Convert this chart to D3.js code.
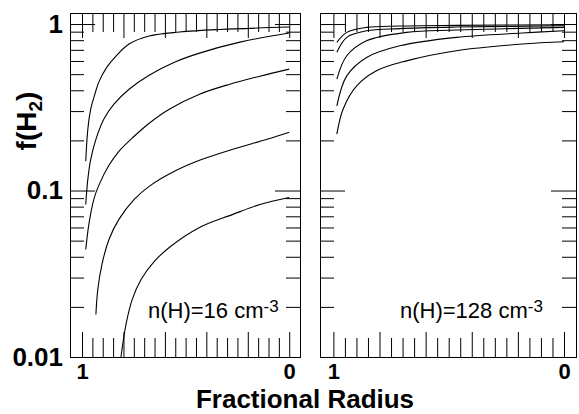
<!DOCTYPE html>
<html>
<head>
<meta charset="utf-8">
<script src="https://cdn.jsdelivr.net/npm/d3@7"></script>
<style>
  body { margin: 0; background: #fff; }
  svg { display: block; color: #000; font-family: 'Liberation Sans', Arial, Helvetica, sans-serif; }
</style>
</head>
<body>
<svg id="chart" width="579" height="414"></svg>
<script>
'use strict'

// fractional radius: 1 = cloud edge, 0 = centre
const radiusMajor = [1, 0.8, 0.6, 0.4, 0.2, 0]
const radiusMinor = [0.95, 0.9, 0.85, 0.75, 0.7, 0.65, 0.55, 0.5, 0.45, 0.35, 0.3, 0.25, 0.15, 0.1, 0.05]
const radiusLabels = [1, 0]

const fractionMajor = [0.01, 0.1, 1]
const fractionMinor = [0.02, 0.03, 0.04, 0.05, 0.06, 0.07, 0.08, 0.09,
  0.2, 0.3, 0.4, 0.5, 0.6, 0.7, 0.8, 0.9]
const fractionLabels = ['0.01', '0.1', '1']

const densities = ['16', '128']

// n(H) = 16 cm^-3, points are [fractional radius, f(H2)]
const n16a = [[0.982, 0.150], [0.972, 0.233], [0.958, 0.308], [0.938, 0.379], [0.919, 0.448],
  [0.880, 0.551], [0.836, 0.642], [0.773, 0.758], [0.676, 0.847], [0.530, 0.895], [0.335, 0.927], [0, 0.959]]
const n16b = [[0.982, 0.0825], [0.972, 0.1167], [0.958, 0.154], [0.933, 0.203], [0.895, 0.268],
  [0.846, 0.330], [0.773, 0.406], [0.676, 0.493], [0.554, 0.590], [0.433, 0.669], [0.238, 0.779], [0, 0.883]]
const n16c = [[0.982, 0.0442], [0.967, 0.0626], [0.943, 0.0885], [0.919, 0.1074], [0.870, 0.1417],
  [0.822, 0.1720], [0.748, 0.2118], [0.676, 0.2536], [0.579, 0.308], [0.433, 0.379], [0.287, 0.435],
  [0.141, 0.486], [0, 0.536]]
const n16d = [[0.933, 0.0180], [0.924, 0.0254], [0.904, 0.0359], [0.870, 0.0508], [0.822, 0.0671],
  [0.748, 0.0885], [0.676, 0.1059], [0.554, 0.1304], [0.433, 0.1519], [0.272, 0.177], [0.107, 0.203], [0, 0.224]]
const n16e = [[0.812, 0.0100], [0.788, 0.01565], [0.758, 0.0221], [0.715, 0.0292], [0.651, 0.0375],
  [0.579, 0.0455], [0.433, 0.0600], [0.272, 0.0719], [0.141, 0.0825], [0, 0.0909]]

// n(H) = 128 cm^-3
const n128a = [[0.985, 0.776], [0.942, 0.891], [0.856, 0.955], [0.712, 0.973], [0.467, 0.982], [0, 0.990]]
const n128b = [[0.985, 0.676], [0.942, 0.832], [0.856, 0.911], [0.712, 0.939], [0.467, 0.959], [0, 0.977]]
const n128c = [[0.985, 0.467], [0.942, 0.645], [0.856, 0.793], [0.683, 0.891], [0.467, 0.920], [0, 0.955]]
const n128d = [[0.985, 0.322], [0.942, 0.488], [0.856, 0.630], [0.712, 0.740], [0.467, 0.832],
  [0.181, 0.883], [0, 0.911]]
const n128e = [[0.985, 0.218], [0.958, 0.308], [0.899, 0.425], [0.813, 0.524], [0.683, 0.601],
  [0.467, 0.691], [0.181, 0.758], [0, 0.782]]

;(function (d3) {
  const svg = d3.select('#chart')
  const top = 13
  const bottom = 357

  const panels = [
    { left: 70, right: 300, curves: [n16a, n16b, n16c, n16d, n16e], density: densities[0], noteX: 148, yLabels: true },
    { left: 320, right: 576, curves: [n128a, n128b, n128c, n128d, n128e], density: densities[1], noteX: 400, yLabels: false }
  ]

  panels.forEach(p => drawPanel(p))

  // shared axis titles
  svg.append('text')
    .attr('x', 305)
    .attr('y', 408)
    .attr('text-anchor', 'middle')
    .attr('font-size', 26)
    .attr('font-weight', 'bold')
    .text('Fractional Radius')

  const yTitle = svg.append('text')
    .attr('transform', 'translate(36,121) rotate(-90)')
    .attr('text-anchor', 'middle')
    .attr('font-size', 28)
    .attr('font-weight', 'bold')
  yTitle.append('tspan').text('f(H')
  yTitle.append('tspan').attr('font-size', 19).attr('dy', 6).text('2')
  yTitle.append('tspan').attr('dy', -6).text(')')

  function drawPanel (p) {
    const x = d3.scaleLinear().domain([1.058, -0.052]).range([p.left, p.right])
    const y = d3.scaleLog().domain([0.01, 1.165]).range([bottom, top])
    const g = svg.append('g')

    // frame and inward ticks on all four sides
    tickAxis(g, d3.axisBottom(x), 'translate(0,' + bottom + ')', radiusMajor, -25)
    tickAxis(g, d3.axisBottom(x), 'translate(0,' + bottom + ')', radiusMinor, -19)
    tickAxis(g, d3.axisTop(x), 'translate(0,' + top + ')', radiusMajor, -25)
    tickAxis(g, d3.axisTop(x), 'translate(0,' + top + ')', radiusMinor, -19)
    tickAxis(g, d3.axisLeft(y), 'translate(' + p.left + ',0)', fractionMajor, -25)
    tickAxis(g, d3.axisLeft(y), 'translate(' + p.left + ',0)', fractionMinor, -14)
    tickAxis(g, d3.axisRight(y), 'translate(' + p.right + ',0)', fractionMajor, -25)
    tickAxis(g, d3.axisRight(y), 'translate(' + p.right + ',0)', fractionMinor, -14)

    // tick labels
    g.append('g')
      .attr('transform', 'translate(0,' + bottom + ')')
      .call(d3.axisBottom(x).tickValues(radiusLabels).tickSize(0).tickPadding(6).tickFormat(d3.format('d')))
      .call(s => s.select('.domain').remove())
      .call(s => s.selectAll('text').attr('font-size', 22).attr('font-weight', 'bold').attr('font-family', null))

    if (p.yLabels) {
      g.append('g')
        .attr('transform', 'translate(' + p.left + ',0)')
        .call(d3.axisLeft(y).tickValues(fractionMajor).tickSize(0).tickPadding(7).tickFormat((d, i) => fractionLabels[i]))
        .call(s => s.select('.domain').remove())
        .call(s => s.selectAll('text').attr('font-size', 26).attr('font-weight', 'bold').attr('font-family', null))
    }

    const line = d3.line()
      .x(d => x(d[0]))
      .y(d => y(d[1]))
      .curve(d3.curveCatmullRom.alpha(0.5))

    g.selectAll('path.curve')
      .data(p.curves)
      .enter()
      .append('path')
      .attr('class', 'curve')
      .attr('fill', 'none')
      .attr('stroke', '#000')
      .attr('stroke-width', 1.1)
      .attr('d', line)

    const note = g.append('text')
      .attr('x', p.noteX)
      .attr('y', 318)
      .attr('font-size', 22)
    note.append('tspan').text('n(H)=' + p.density + ' cm')
    note.append('tspan').attr('font-size', 17).attr('dy', -6).text('-3')
  }

  function tickAxis (g, axis, transform, values, size) {
    g.append('g')
      .attr('transform', transform)
      .call(axis.tickValues(values).tickSize(size).tickSizeOuter(0).tickFormat(''))
      .call(s => s.selectAll('text').remove())
  }
})(d3)
</script>
</body>
</html>
